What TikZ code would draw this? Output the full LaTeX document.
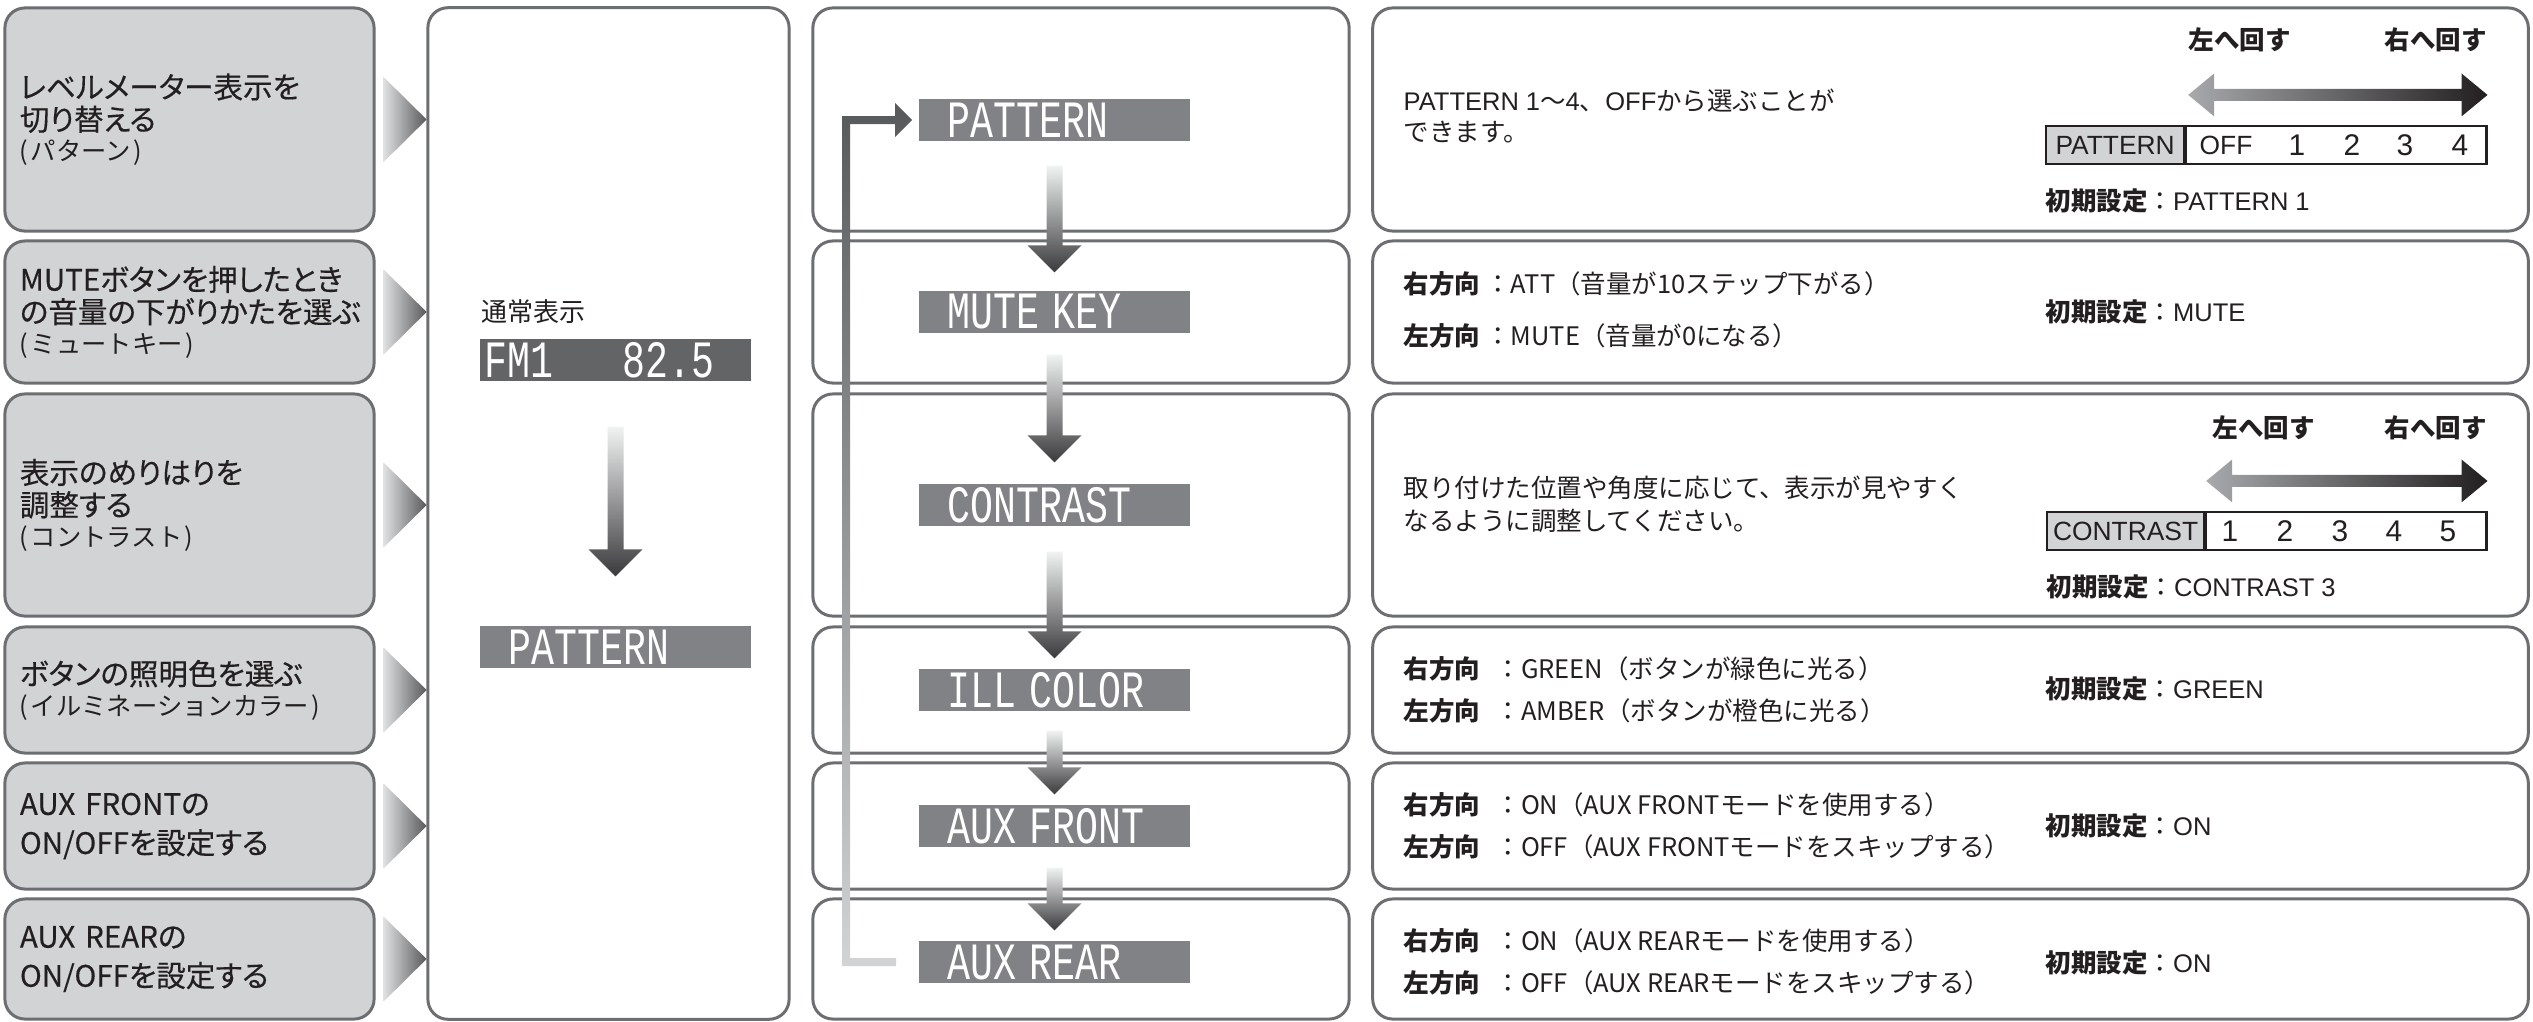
\documentclass[tikz,border=0pt]{standalone}
\usepackage{fontspec}
\setmainfont{Noto Sans CJK JP}
\newfontfamily\menufont{Noto Sans CJK JP}[RawFeature=+palt, FakeBold=0.4]
\newfontfamily\lcdfont{Liberation Mono}
\newfontfamily\tabfont{Liberation Sans}
\usetikzlibrary{positioning,calc}

% colours
\definecolor{panelgray}{HTML}{D1D3D4}
\definecolor{framegray}{HTML}{6D6E71}
\definecolor{lcdgray}{HTML}{808285}
\definecolor{lcddark}{HTML}{636466}
\definecolor{ink}{HTML}{231F20}
\definecolor{fadelight}{HTML}{F1F2F2}
\definecolor{fadedark}{HTML}{3A3A3C}
\definecolor{loopdark}{HTML}{58595B}
\definecolor{tipgray}{HTML}{A7A9AC}

\tikzset{
  menubox/.style={draw=framegray, fill=panelgray, line width=0.85pt, rounded corners=0.2cm,
    minimum width=3.69cm, text width=3.39cm, align=left, inner sep=0pt, text=ink,
    font=\menufont\fontsize{8.4}{9.2}\selectfont},
  frame/.style={draw=framegray, line width=0.85pt, rounded corners=0.2cm, inner sep=0pt},
  lcd/.style={fill=lcdgray, minimum width=2.71cm, minimum height=0.42cm, inner sep=0pt,
    text width=2.13cm, align=left, text=white, font=\lcdfont\fontsize{10.87}{12}\selectfont},
  note/.style={anchor=west, align=left, text=ink, inner sep=0pt},
  desc/.style={note, font=\fontsize{7.25}{#1}\selectfont},
  turn/.style={text=ink, inner sep=0pt, font=\bfseries\fontsize{7.25}{8}\selectfont},
  cellbox/.style={draw=ink, line width=0.6pt, minimum height=0.38cm, inner sep=0pt, anchor=west,
    text=ink, font=\tabfont\fontsize{7.5}{8}\selectfont},
  cellval/.style={text=ink, inner sep=0pt, font=\tabfont\fontsize{8.5}{9}\selectfont},
}
\newcommand{\subl}[1]{{\rmfamily\fontsize{7.2}{8}\selectfont(\hspace{0.1em}#1\hspace{0.1em})}}
\newcommand{\lcdtxt}[1]{\scalebox{1}[1.37]{#1}}
\newcommand{\en}[1]{{\tabfont #1}}

\begin{document}
\begin{tikzpicture}[x=0.01cm, y=-0.01cm]
\useasboundingbox (0,0) rectangle (2533,1021);

% left column: menu items
\node[menubox, minimum height=2.23cm] (m1) at (189.5,119.5) {レベルメーター表示を\\切り替える\\[-0.6pt]\subl{パターン}};
\node[menubox, minimum height=1.42cm] (m2) at (189.5,312) {MUTEボタンを押したとき\\の音量の下がりかたを選ぶ\\[-0.6pt]\subl{ミュートキー}};
\node[menubox, minimum height=2.22cm] (m3) at (189.5,505) {表示のめりはりを\\調整する\\[-0.6pt]\subl{コントラスト}};
\node[menubox, minimum height=1.26cm] (m4) at (189.5,690) {ボタンの照明色を選ぶ\\[-0.6pt]\subl{イルミネーションカラー}};
\node[menubox, minimum height=1.26cm] (m5) at (189.5,826) {AUX FRONTの\\[1.9pt]ON/OFFを設定する};
\node[menubox, minimum height=1.20cm] (m6) at (189.5,959) {AUX REARの\\[1.9pt]ON/OFFを設定する};

% pointers next to the menu items
\foreach \i in {1,...,6}
  \shade[left color=panelgray!70, right color=loopdark]
    ($(m\i.east)+(8,-42.5)$) -- ($(m\i.east)+(51,0)$) -- ($(m\i.east)+(8,42.5)$) -- cycle;

% normal display panel
\node[frame, minimum width=3.61cm, minimum height=10.11cm] (disp) at (608.5,513.5) {};
\node[note, font=\fontsize{7.4}{9}\selectfont] (normal) at (481,312) {通常表示};
\node[lcd, fill=lcddark, text width=2.61cm] (fm) at (615.5,360) {\lcdtxt{FM1\phantom{000}82.5}};
\node[lcd] (pat0) at (615.5,647) {\lcdtxt{PATTERN}};

% row frames, middle and right
\foreach \i/\yc/\rowh in {1/119.5/2.23, 2/312/1.42, 3/505/2.22, 4/690/1.26, 5/826/1.26, 6/959/1.20} {
  \node[frame, minimum width=5.36cm, minimum height=\rowh cm] (mid\i) at (1081,\yc) {};
  \node[frame, minimum width=11.55cm, minimum height=\rowh cm] (info\i) at (1950.5,\yc) {};
}

% display steps
\foreach \i/\yc/\txt in {1/120/PATTERN, 2/312/MUTE KEY, 3/505/CONTRAST, 4/690/ILL COLOR, 5/826/AUX FRONT, 6/962/AUX REAR}
  \node[lcd] (lcd\i) at (1054.5,\yc) {\lcdtxt{\txt}};

% down arrows between displays
\foreach \a/\b/\s/\t in {fm/pat0/45/49, lcd1/lcd2/24/18, lcd2/lcd3/21/21, lcd3/lcd4/25/10, lcd4/lcd5/19/10, lcd5/lcd6/20/10}
  \shade[top color=fadelight, bottom color=fadedark]
    ($(\a.south)+(-8,\s)$) -- ($(\a.south)+(8,\s)$) -- ($(\b.north)+(8,-\t-27)$)
    -- ($(\b.north)+(27,-\t-27)$) -- ($(\b.north)+(0,-\t)$) -- ($(\b.north)+(-27,-\t-27)$)
    -- ($(\b.north)+(-8,-\t-27)$) -- cycle;

% loop back from AUX REAR to PATTERN
\shade[top color=loopdark, bottom color=panelgray]
  ($(lcd6.west)+(-22,-4)$) -- ($(lcd6.west)+(-68,-4)$) -- ($(lcd1.west)+(-68,4)$)
  -- ($(lcd1.west)+(-23,4)$) -- ($(lcd1.west)+(-23,17)$) -- ($(lcd1.west)+(-6,0)$)
  -- ($(lcd1.west)+(-23,-17)$) -- ($(lcd1.west)+(-23,-4)$) -- ($(lcd1.west)+(-76,-4)$)
  -- ($(lcd6.west)+(-76,4)$) -- ($(lcd6.west)+(-22,4)$) -- cycle;

% row 1: pattern
\node[desc=8.8] (d1) at (1403,116) {\en{PATTERN 1}～\en{4}、\en{OFF}から選ぶことが\\できます。};
\node[cellbox, fill=panelgray, minimum width=1.38cm] (pcell) at (2045,145) {PATTERN};
\node[cellbox, minimum width=3.00cm] (prange) at (pcell.east) {};
\node[cellval, font=\tabfont\fontsize{7.5}{8}\selectfont] (pvOFF) at (2226,145) {OFF};
\foreach \v/\x in {1/2297, 2/2352, 3/2405, 4/2460}
  \node[cellval] (pv\v) at (\x,145) {\v};
\coordinate (pl) at ($(prange.north west)+(3,-30)$);
\coordinate (pr) at ($(prange.north east)+(0,-30)$);
\shade[left color=tipgray, right color=ink]
  (pl) -- ($(pl)+(26,-21.5)$) -- ($(pl)+(26,-6)$) -- ($(pr)+(-26,-6)$) -- ($(pr)+(-26,-21.5)$)
  -- (pr) -- ($(pr)+(-26,21.5)$) -- ($(pr)+(-26,6)$) -- ($(pl)+(26,6)$) -- ($(pl)+(26,21.5)$) -- cycle;
\node[turn, anchor=west] (pleft) at ($(pl)+(0,-55)$) {左へ回す};
\node[turn, anchor=east] (pright) at ($(pr)+(0,-55)$) {右へ回す};
\node[desc=9] (pinit) at ($(pcell.south west)+(0,36)$) {\textbf{初期設定}：\en{PATTERN 1}};

% row 2: mute key
\node[desc=14.8] (d2) at (1403,310) {\textbf{右方向}\hspace{0.2em}：ATT（音量が10ステップ下がる）\\\textbf{左方向}\hspace{0.2em}：MUTE（音量が0になる）};
\node[desc=9] (init2) at (2045,312) {\textbf{初期設定}：\en{MUTE}};

% row 3: contrast
\node[desc=9.4] (d3) at (1403,504) {取り付けた位置や角度に応じて、表示が見やすく\\なるように調整してください。};
\node[cellbox, fill=panelgray, minimum width=1.57cm] (ccell) at (2046,531) {CONTRAST};
\node[cellbox, minimum width=2.80cm] (crange) at (ccell.east) {};
\foreach \v/\x in {1/2230, 2/2285, 3/2340, 4/2394, 5/2448}
  \node[cellval] (cv\v) at (\x,531) {\v};
\coordinate (cl) at ($(crange.north west)+(1,-30)$);
\coordinate (cr) at ($(crange.north east)+(0,-30)$);
\shade[left color=tipgray, right color=ink]
  (cl) -- ($(cl)+(26,-21.5)$) -- ($(cl)+(26,-6)$) -- ($(cr)+(-26,-6)$) -- ($(cr)+(-26,-21.5)$)
  -- (cr) -- ($(cr)+(-26,21.5)$) -- ($(cr)+(-26,6)$) -- ($(cl)+(26,6)$) -- ($(cl)+(26,21.5)$) -- cycle;
\node[turn, anchor=west] (cleft) at ($(cl)+(6,-53)$) {左へ回す};
\node[turn, anchor=east] (cright) at ($(cr)+(0,-53)$) {右へ回す};
\node[desc=9] (cinit) at ($(ccell.south west)+(0,36)$) {\textbf{初期設定}：\en{CONTRAST 3}};

% row 4: illumination colour
\node[desc=12] (d4) at (1403,690) {\textbf{右方向}\hspace{0.6em}：GREEN（ボタンが緑色に光る）\\\textbf{左方向}\hspace{0.6em}：AMBER（ボタンが橙色に光る）};
\node[desc=9] (init4) at (2045,689) {\textbf{初期設定}：\en{GREEN}};

% row 5: aux front
\node[desc=12] (d5) at (1403,826) {\textbf{右方向}\hspace{0.6em}：ON（AUX FRONTモードを使用する）\\\textbf{左方向}\hspace{0.6em}：OFF（AUX FRONTモードをスキップする）};
\node[desc=9] (init5) at (2045,826) {\textbf{初期設定}：\en{ON}};

% row 6: aux rear
\node[desc=12] (d6) at (1403,962) {\textbf{右方向}\hspace{0.6em}：ON（AUX REARモードを使用する）\\\textbf{左方向}\hspace{0.6em}：OFF（AUX REARモードをスキップする）};
\node[desc=9] (init6) at (2045,963) {\textbf{初期設定}：\en{ON}};
\end{tikzpicture}
\end{document}
